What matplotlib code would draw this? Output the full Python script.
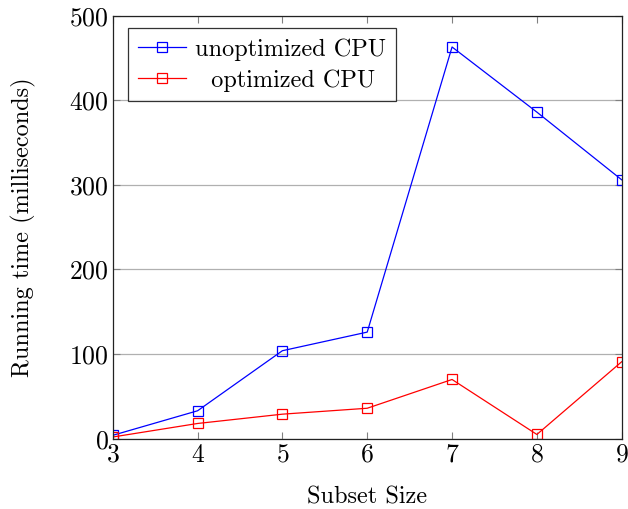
import matplotlib
matplotlib.use("Agg")
import matplotlib.pyplot as plt

plt.rcParams["font.family"] = ["cmr10", "DejaVu Serif"]
plt.rcParams["axes.formatter.use_mathtext"] = True
plt.rcParams["mathtext.fontset"] = "cm"

subset_sizes = [3, 4, 5, 6, 7, 8, 9]
unoptimized_ms = [4, 33, 104, 126, 463, 386, 306]
optimized_ms = [2, 18, 29, 36, 70, 5, 91]

fig = plt.figure(figsize=(6.28, 5.09), dpi=100)
ax = fig.add_axes([0.1795, 0.1381, 0.8105, 0.8311])

ax.plot(subset_sizes, unoptimized_ms, color="#0000ff", lw=0.9, marker="s",
        ms=7.5, mfc="none", mec="#0000ff", mew=0.9, label="unoptimized CPU")
ax.plot(subset_sizes, optimized_ms, color="#ff0000", lw=0.9, marker="s",
        ms=7.5, mfc="none", mec="#ff0000", mew=0.9, label="  optimized CPU")

ax.set_xlim(3, 9)
ax.set_ylim(0, 500)
ax.set_xticks(subset_sizes)
ax.set_yticks([0, 100, 200, 300, 400, 500])
ax.yaxis.grid(True, color="#b0b0b0", lw=0.9)
ax.set_axisbelow(True)

ax.tick_params(direction="in", top=True, right=True, length=5, width=0.8,
               color="#808080", labelsize=18.5, pad=3)
for s in ax.spines.values():
    s.set_color("#222222")
    s.set_linewidth(0.9)

ax.set_xlabel("Subset Size", fontsize=17.5, labelpad=14)
ax.set_ylabel("Running time (milliseconds)", fontsize=17.5, labelpad=24)

leg = ax.legend(loc="upper left", bbox_to_anchor=(0.03, 0.97), fontsize=17.5,
                frameon=True, fancybox=False, edgecolor="black",
                handlelength=2.0, borderpad=0.4, labelspacing=0.35,
                handletextpad=0.35, borderaxespad=0)
leg.get_frame().set_linewidth(0.9)

fig.savefig("out.png", dpi=100)
